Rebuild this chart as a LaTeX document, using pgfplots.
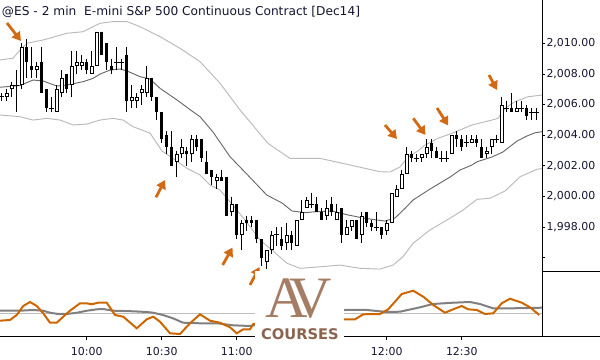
\documentclass[border=0pt]{standalone}
\usepackage{fontspec}
\setmainfont{DejaVu Sans}
\newfontfamily\logoserif{Liberation Serif}
\usepackage{pgfplots}
\usepackage{pgfplotstable}
\pgfplotsset{compat=1.18}
\usetikzlibrary{arrows.meta}

\definecolor{arr}{RGB}{210,105,20}
\definecolor{osc}{RGB}{204,102,0}
\definecolor{midg}{RGB}{105,105,105}
\definecolor{bandg}{RGB}{185,185,185}
\definecolor{sigg}{RGB}{128,128,128}
\definecolor{zerog}{RGB}{190,190,190}
\definecolor{txt}{RGB}{20,20,50}
\definecolor{logoA}{RGB}{165,125,100}
\definecolor{logoC}{RGB}{140,100,78}

% 2-minute bars, t = minutes after 10:00
\pgfplotstableread{
t O H L C
-34 2006.5 2006.75 2006.25 2006.5
-32 2006.5 2007.0 2006.25 2006.75
-30 2007.0 2007.5 2006.5 2007.25
-28 2007.25 2008.25 2005.5 2007.25
-26 2007.25 2010.0 2007.0 2009.75
-24 2009.75 2010.25 2007.75 2008.75
-22 2008.5 2009.75 2007.75 2008.25
-20 2008.25 2008.75 2007.75 2008.5
-18 2008.75 2009.75 2006.75 2006.75
-16 2007.0 2007.0 2005.5 2005.75
-14 2005.75 2006.5 2005.5 2005.75
-12 2005.5 2007.25 2005.5 2007.0
-10 2006.75 2008.25 2006.5 2007.75
-8 2008.0 2008.0 2006.75 2007.0
-6 2007.25 2009.5 2006.5 2008.5
-4 2008.5 2009.5 2008.0 2008.75
-2 2008.5 2009.25 2008.25 2008.75
0 2008.75 2009.0 2008.0 2008.25
2 2008.0 2009.5 2008.0 2008.5
4 2008.5 2010.75 2008.5 2010.75
6 2010.75 2010.75 2009.25 2009.25
8 2010.0 2010.0 2008.25 2008.75
10 2008.5 2009.0 2008.0 2008.25
12 2008.75 2009.75 2008.25 2008.75
14 2008.75 2009.0 2008.25 2008.75
16 2009.25 2009.75 2005.5 2006.25
18 2006.25 2007.25 2005.75 2006.5
20 2006.25 2006.75 2005.75 2006.5
22 2006.75 2007.25 2006.0 2007.0
24 2006.75 2008.5 2006.5 2007.75
26 2007.75 2007.75 2006.25 2006.5
28 2006.5 2006.5 2005.0 2005.5
30 2005.5 2005.5 2003.5 2003.75
32 2004.0 2004.25 2002.75 2003.25
34 2003.25 2004.25 2002.0 2002.0
36 2002.25 2003.0 2001.25 2002.75
38 2002.75 2003.75 2002.5 2003.25
40 2003.0 2003.25 2002.0 2002.75
42 2002.75 2004.0 2002.25 2003.75
44 2003.75 2004.0 2003.0 2003.25
46 2003.75 2003.75 2002.25 2002.5
48 2002.25 2003.0 2001.5 2001.5
50 2001.75 2001.75 2000.75 2001.25
52 2001.0 2001.5 2000.5 2001.25
54 2001.25 2001.75 2001.0 2001.0
56 2001.25 2001.25 1998.75 1998.75
58 1999.0 2000.0 1998.75 1999.5
60 1999.5 1999.5 1997.25 1997.5
62 1997.5 1998.5 1996.5 1998.25
64 1998.5 1998.75 1997.75 1998.25
66 1998.5 1998.75 1998.0 1998.25
68 1998.5 1998.5 1997.0 1997.25
70 1997.25 1997.25 1995.5 1996.0
72 1995.75 1996.5 1995.25 1996.5
74 1996.5 1997.75 1996.25 1997.5
76 1997.5 1998.0 1996.75 1997.5
78 1997.25 1998.0 1996.5 1996.75
80 1997.0 1998.25 1996.5 1997.5
82 1997.5 1997.75 1996.5 1997.0
84 1996.75 1998.5 1996.75 1998.5
86 1998.5 1999.75 1998.5 1999.0
88 1999.25 2000.0 1999.25 1999.75
90 1999.5 2000.25 1999.25 1999.5
92 1999.5 2000.0 1999.0 1999.0
94 1999.0 1999.25 1998.5 1998.5
96 1998.75 1999.75 1998.5 1999.25
98 1999.5 2000.0 1998.75 1999.0
100 1998.5 1999.5 1998.5 1999.0
102 1999.25 1999.25 1997.0 1997.5
104 1997.5 1998.5 1997.5 1998.0
106 1998.0 1998.5 1997.75 1998.5
108 1998.5 1998.5 1997.25 1997.25
110 1997.5 1999.0 1997.0 1998.75
112 1999.0 1999.0 1998.0 1998.25
114 1998.25 1998.5 1997.75 1998.0
116 1998.0 1999.0 1997.75 1998.0
118 1998.0 1998.0 1997.25 1997.5
120 1997.75 1998.5 1997.5 1998.25
122 1998.25 2000.25 1998.25 2000.25
124 2000.0 2000.75 2000.0 2000.5
126 2000.5 2001.75 2000.5 2001.5
128 2001.5 2003.25 2001.5 2002.75
130 2002.75 2003.0 2002.25 2002.5
132 2002.5 2002.75 2002.25 2002.5
134 2002.5 2002.75 2002.25 2002.75
136 2002.75 2003.75 2002.5 2003.25
138 2003.5 2003.75 2002.5 2003.0
140 2003.0 2003.25 2002.5 2002.5
142 2002.5 2003.0 2002.25 2002.5
144 2002.5 2003.0 2002.25 2002.5
146 2002.75 2004.0 2002.75 2004.0
148 2004.0 2004.25 2003.25 2003.75
150 2003.75 2004.0 2003.0 2003.25
152 2003.5 2004.0 2003.25 2003.5
154 2003.5 2004.0 2003.5 2003.75
156 2003.75 2004.0 2003.25 2003.5
158 2003.25 2003.75 2002.5 2002.5
160 2002.75 2003.25 2002.5 2003.0
162 2003.25 2003.75 2002.75 2003.75
164 2003.75 2004.0 2003.5 2003.75
166 2003.5 2006.5 2003.5 2006.0
168 2005.75 2006.25 2005.5 2005.75
170 2005.75 2006.75 2005.5 2005.5
172 2005.5 2006.25 2005.5 2005.75
174 2005.75 2006.25 2005.5 2005.75
176 2005.75 2006.0 2005.0 2005.25
178 2005.5 2005.75 2005.0 2005.5
180 2005.5 2005.75 2005.0 2005.5
}\bars

\pgfplotstableread{
t p
-34.7 2008.91
-29.5 2009.02
-26.7 2009.56
-23.9 2010.00
-17.5 2010.21
-7.9 2010.65
-1.5 2010.75
2.5 2011.08
5.3 2011.30
10.5 2011.41
16.1 2011.41
21.3 2011.08
29.3 2010.43
37.3 2009.67
45.3 2008.80
53.3 2007.39
61.3 2005.65
68.0 2004.34
72.5 2003.47
77.3 2002.93
81.3 2002.49
85.3 2002.49
93.3 2002.49
105.3 2002.06
117.3 2001.62
121.3 2001.60
125.3 2001.93
128.5 2002.58
132.1 2002.93
135.3 2003.36
140.5 2003.80
146.1 2004.13
154.1 2004.67
162.1 2004.99
164.5 2005.10
167.3 2005.76
171.3 2006.19
176.5 2006.51
182.1 2006.62
}\upband

\pgfplotstableread{
t p
-34.7 2007.13
-26.7 2007.24
-21.5 2007.60
-17.5 2007.54
-11.9 2007.21
-7.9 2007.28
-1.5 2007.49
2.5 2007.71
5.3 2007.99
9.3 2008.25
13.3 2008.32
16.1 2008.19
21.3 2007.82
25.3 2007.67
29.3 2007.06
36.1 2006.30
42.5 2005.53
45.3 2005.21
50.5 2004.21
57.3 2002.60
64.0 2001.47
72.0 2000.10
78.1 1999.58
82.1 1999.06
87.3 1998.95
91.3 1999.01
98.1 1999.06
104.5 1998.80
111.3 1998.58
119.3 1998.40
123.3 1998.60
127.3 1999.23
130.5 1999.77
137.3 2000.49
145.3 2001.27
149.3 2001.73
154.1 2002.06
156.1 2002.27
162.1 2002.58
166.5 2002.91
172.1 2003.62
176.1 2003.95
179.3 2004.16
182.1 2004.23
}\midband

\pgfplotstableread{
t p
-34.7 2005.32
-26.7 2005.21
-21.5 2004.99
-15.9 2005.10
-10.7 2004.99
-5.5 2004.67
0.1 2004.73
5.3 2004.99
10.5 2005.10
14.5 2004.99
18.5 2004.56
25.3 2004.14
30.1 2002.97
34.5 2002.49
40.1 2001.84
45.3 2001.41
49.3 2000.75
53.3 2000.43
57.3 1999.66
63.3 1998.47
69.3 1997.17
74.1 1996.51
80.1 1995.65
85.3 1995.32
93.3 1995.42
101.3 1995.53
109.3 1995.32
117.3 1995.27
122.5 1995.53
126.5 1996.08
130.5 1996.95
137.3 1997.82
144.1 1998.47
150.5 1999.12
156.1 1999.82
161.3 1999.89
167.3 2000.36
173.3 2001.29
180.1 2001.78
182.1 2001.83
}\loband

\pgfplotstableread{
t v
-34.7 0.26
-26.7 0.26
-21.5 0.33
-17.5 0.26
-14.7 0.06
-11.5 -0.07
-7.9 -0.07
-3.9 0.06
0.1 0.26
4.1 0.40
6.5 0.43
10.5 0.26
18.5 0.20
24.1 0.13
26.5 0.06
30.5 -0.17
34.5 -0.50
38.5 -0.94
45.3 -1.00
52.1 -1.00
58.5 -1.20
65.3 -1.27
103.3 0.33
112.1 0.33
120.1 0.13
125.3 0.16
133.3 0.60
138.5 0.93
146.5 1.06
153.3 1.13
157.3 0.93
162.5 0.50
170.5 0.50
182.1 0.56
}\sig

\pgfplotstableread{
t v
-34.7 -0.74
-30.7 -0.67
-28.0 -0.17
-25.4 0.73
-22.7 1.13
-20.0 0.73
-17.4 0.0
-14.7 -0.94
-12.0 -0.94
-9.4 -0.34
-6.7 0.26
-2.7 1.0
0.0 1.0
2.0 0.9
4.6 1.06
8.0 1.06
11.3 -0.17
14.6 -0.34
20.0 -1.5
24.0 -0.6
26.6 -0.34
29.3 -0.84
33.3 -2.0
37.3 -2.07
41.3 -1.0
45.3 -0.1
49.3 -0.74
53.3 -0.94
57.3 -1.4
60.0 -2.0
62.6 -1.6
65.3 -1.6
66.6 -1.07
103.3 -0.6
107.3 -0.6
110.6 -0.1
117.3 -0.07
120.6 0.4
126.0 1.93
130.6 2.26
134.6 1.66
138.6 0.83
143.3 0.06
146.6 0.4
150.0 0.73
152.6 0.4
156.0 0.33
159.3 -0.07
162.6 0.0
166.0 1.0
169.3 1.46
174.0 1.06
177.3 0.6
181.0 -0.17
}\osci

\begin{document}
\begin{tikzpicture}
\useasboundingbox (0pt,0pt) rectangle (450pt,270pt);

% ---------- price panel ----------
\begin{axis}[
  at={(0pt,66pt)}, anchor=south west, scale only axis,
  width=406.5pt, height=204pt,
  xmin=-34.7, xmax=182.1, ymin=1995.08, ymax=2012.82,
  axis x line=none, axis y line=right,
  axis line style={-, black, line width=0.75pt},
  ytick={1996,1998,2000,2002,2004,2006,2008,2010},
  yticklabels={{},{1,998.00},{2,000.00},{2,002.00},{2,004.00},{2,006.00},{2,008.00},{2,010.00}},
  tick align=outside, major tick length=2.6pt,
  ytick style={black, line width=0.6pt},
  yticklabel style={font=\fontsize{8.2}{10}\selectfont, text=txt, anchor=west, inner xsep=0.6pt},
]
\addplot[bandg, line width=0.7pt] table[x=t, y=p] {\upband};
\addplot[bandg, line width=0.7pt] table[x=t, y=p] {\loband};
\addplot[midg, line width=0.7pt] table[x=t, y=p] {\midband};
% wicks
\addplot[black, line width=0.75pt, -, quiver={u=0, v=\thisrow{L}-\thisrow{H}}]
  table[x=t, y=H] {\bars};
% down (filled) bodies
\addplot[black, line width=2.25pt, -, quiver={u=0, v=\thisrow{C}-\thisrow{O}},
  restrict expr to domain={\thisrow{O}-\thisrow{C}}{0.1:100}]
  table[x=t, y=O] {\bars};
% up (hollow) bodies
\addplot[black, line width=3pt, -, quiver={u=0, v=\thisrow{C}-\thisrow{O}},
  restrict expr to domain={\thisrow{C}-\thisrow{O}}{0.1:100}]
  table[x=t, y=O] {\bars};
\addplot[white, line width=1.5pt, -, shorten >=0.75pt, shorten <=0.75pt,
  quiver={u=0, v=\thisrow{C}-\thisrow{O}},
  restrict expr to domain={\thisrow{C}-\thisrow{O}}{0.1:100}]
  table[x=t, y=O] {\bars};
% doji
\addplot[black, only marks, mark=-, mark size=1.8pt, mark options={line width=0.75pt},
  restrict expr to domain={\thisrow{C}-\thisrow{O}}{-0.05:0.05}]
  table[x=t, y=O] {\bars};
\end{axis}

% ---------- oscillator panel ----------
\begin{axis}[
  at={(0pt,17.25pt)}, anchor=south west, scale only axis,
  width=406.5pt, height=48.75pt,
  xmin=-34.7, xmax=182.1, ymin=-2.37, ymax=4.13,
  axis x line=bottom, axis y line=right,
  axis line style={-, black, line width=0.75pt},
  ytick=\empty,
  xtick={0,30,60,90,120,150},
  xticklabels={10:00,10:30,11:00,11:30,12:00,12:30},
  tick align=outside, major tick length=2.6pt,
  xtick style={black, line width=0.6pt},
  xticklabel style={font=\fontsize{8.2}{10}\selectfont, text=txt, yshift=-1.5pt},
]
\addplot[zerog, line width=0.7pt] coordinates {(-34.7,0) (182.1,0)};
\addplot[sigg, line width=1.5pt] table[x=t, y=v] {\sig};
\addplot[osc, line width=1.5pt] table[x=t, y=v] {\osci};
\end{axis}

% ---------- annotations in pixel coordinates ----------
\begin{scope}[x=0.75pt, y=-0.75pt, yshift=270pt]
\draw[black, line width=0.75pt] (542,272) -- (600,272);
\draw[black, line width=0.75pt] (542,337) -- (600,337);
\node[anchor=base west, inner sep=0pt, text=txt, font=\fontsize{9.15}{11}\selectfont]
  at (1.7,16) {@ES - 2 min\ \ E-mini S\&P 500 Continuous Contract [Dec14]};
\tikzset{oarr/.style={arr, line width=2.1pt, -{Triangle[length=6.5pt, width=7.5pt]}}}
\draw[oarr] (7,23) -- (21,41);
\draw[oarr] (156,197.3) -- (165,180);
\draw[oarr] (222.7,265) -- (232.5,247.5);
\draw[oarr] (250,285) -- (259.5,267);
\draw[oarr] (385,125) -- (397,139);
\draw[oarr] (413.3,118.3) -- (425.5,135);
\draw[oarr] (437,108) -- (448.3,125.5);
\draw[oarr] (489,75) -- (497,90);
% logo
\fill[white] (255,271) rectangle (344,360);
\node[text=logoA, inner sep=0pt] at (299,299)
  {\logoserif\fontsize{44}{44}\selectfont A\kern-14pt V};
\node[anchor=base, inner sep=0pt, text=logoC] at (300,340)
  {\fontsize{11}{11}\selectfont\bfseries COURSES};
\end{scope}
\end{tikzpicture}
\end{document}
